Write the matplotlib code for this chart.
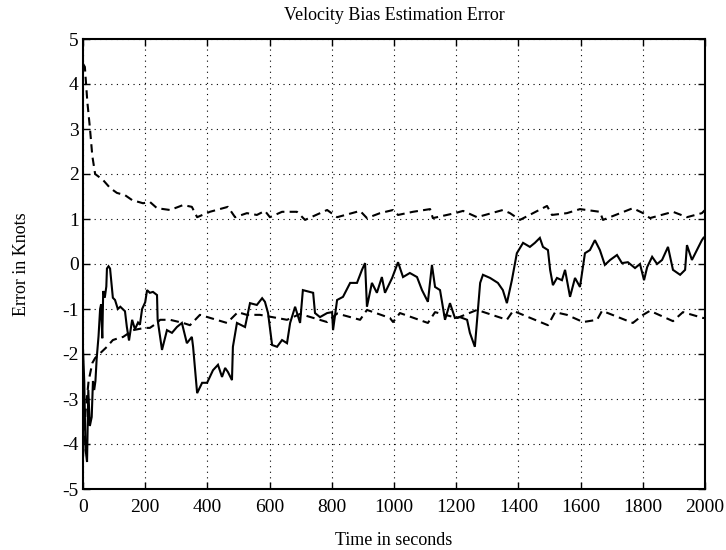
import matplotlib
matplotlib.use("Agg")
import matplotlib.pyplot as plt
import numpy as np

# ---- data ----
err_t = [0, 4, 8, 13, 17, 22, 28, 32, 36, 40, 44, 50, 55, 58, 62, 65, 70, 75, 77, 82, 87, 96,
         103, 112, 120, 135, 141, 148, 158, 167, 177, 183, 190, 200, 206, 215, 225, 238, 240,
         254, 270, 286, 302, 318, 334, 350, 354, 367, 383, 399, 418, 434, 447, 457, 466, 479,
         482, 495, 521, 537, 559, 576, 585, 595, 608, 624, 640, 656, 666, 682, 698, 707, 740,
         746, 762, 785, 801, 804, 817, 836, 859, 881, 897, 907, 913, 929, 945, 961, 971, 994,
         1013, 1029, 1051, 1074, 1090, 1109, 1122, 1132, 1148, 1164, 1180, 1196, 1212, 1235,
         1244, 1260, 1277, 1286, 1309, 1334, 1350, 1363, 1379, 1395, 1415, 1437, 1453, 1469,
         1479, 1495, 1502, 1511, 1524, 1540, 1550, 1566, 1582, 1598, 1614, 1630, 1646, 1662,
         1678, 1695, 1717, 1733, 1752, 1775, 1791, 1804, 1814, 1830, 1846, 1862, 1881, 1897,
         1920, 1936, 1942, 1958, 1974, 1990, 1997, 2000]
err_v = [-1.9, -2.6, -4.1, -4.4, -2.8, -3.6, -3.4, -2.6, -2.8, -2.6, -2.1, -1.6, -1.0, -0.9,
         -1.65, -0.6, -0.75, -0.5, -0.1, -0.05, -0.1, -0.75, -0.8, -1.0, -0.95, -1.05, -1.4,
         -1.7, -1.24, -1.45, -1.3, -1.35, -1.0, -0.85, -0.58, -0.64, -0.62, -0.69, -1.24,
         -1.91, -1.47, -1.53, -1.4, -1.31, -1.76, -1.62, -1.84, -2.87, -2.64, -2.64, -2.36,
         -2.24, -2.51, -2.31, -2.4, -2.58, -1.84, -1.31, -1.4, -0.87, -0.91, -0.76, -0.84,
         -1.09, -1.8, -1.84, -1.69, -1.76, -1.31, -0.95, -1.31, -0.58, -0.64, -1.09, -1.18,
         -1.09, -1.07, -1.47, -0.8, -0.73, -0.42, -0.42, -0.13, 0.02, -0.95, -0.42, -0.64,
         -0.29, -0.64, -0.31, 0.04, -0.29, -0.2, -0.29, -0.58, -0.84, -0.02, -0.51, -0.58,
         -1.24, -0.87, -1.2, -1.18, -1.24, -1.53, -1.84, -0.42, -0.24, -0.31, -0.42, -0.58,
         -0.87, -0.36, 0.24, 0.47, 0.38, 0.47, 0.58, 0.38, 0.31, -0.13, -0.47, -0.31, -0.36,
         -0.13, -0.73, -0.31, -0.51, 0.24, 0.31, 0.53, 0.31, -0.02, 0.09, 0.2, 0.02, 0.04,
         -0.09, 0.0, -0.36, -0.07, 0.16, 0.0, 0.09, 0.38, -0.13, -0.24, -0.13, 0.42, 0.09,
         0.31, 0.53, 0.6, 0.55]

up_t = [0, 6, 14, 22, 30, 39, 64, 87, 109, 135, 158, 193, 215, 238, 280, 322, 350, 367, 408,
        466, 489, 527, 559, 585, 601, 640, 688, 714, 785, 817, 891, 913, 955, 997, 1013, 1061,
        1116, 1125, 1196, 1222, 1267, 1350, 1373, 1405, 1492, 1508, 1556, 1598, 1662, 1672,
        1768, 1801, 1823, 1897, 1942, 1990, 2000]
up_v = [4.45, 4.38, 3.6, 3.04, 2.4, 2.0, 1.87, 1.69, 1.58, 1.53, 1.42, 1.35, 1.38, 1.24, 1.2,
        1.31, 1.27, 1.04, 1.16, 1.27, 1.04, 1.13, 1.09, 1.18, 1.04, 1.16, 1.16, 0.98, 1.2, 1.04,
        1.18, 1.02, 1.13, 1.2, 1.09, 1.16, 1.22, 1.02, 1.13, 1.18, 1.04, 1.2, 1.13, 0.98, 1.29,
        1.09, 1.13, 1.22, 1.16, 0.98, 1.24, 1.13, 1.02, 1.16, 1.04, 1.13, 1.2]

lo_t = [0, 8, 18, 30, 39, 77, 96, 113, 129, 161, 183, 199, 215, 238, 248, 280, 322, 344, 376,
        463, 498, 527, 569, 656, 698, 785, 817, 891, 913, 987, 997, 1019, 1109, 1132, 1203,
        1267, 1363, 1383, 1495, 1518, 1556, 1608, 1653, 1669, 1768, 1801, 1823, 1897, 1929,
        1994, 2000]
lo_v = [-4.3, -3.3, -2.6, -2.2, -2.09, -1.84, -1.69, -1.65, -1.62, -1.47, -1.44, -1.42, -1.42,
        -1.31, -1.24, -1.24, -1.31, -1.36, -1.13, -1.31, -1.07, -1.13, -1.13, -1.24, -1.11,
        -1.29, -1.1, -1.24, -1.02, -1.2, -1.29, -1.09, -1.31, -1.07, -1.2, -1.02, -1.24, -1.04,
        -1.36, -1.07, -1.13, -1.29, -1.24, -1.04, -1.31, -1.13, -1.04, -1.27, -1.07, -1.2, -1.2]

x_ticks = [0, 200, 400, 600, 800, 1000, 1200, 1400, 1600, 1800, 2000]
y_ticks = [-5, -4, -3, -2, -1, 0, 1, 2, 3, 4, 5]

plt.rcParams['font.family'] = ['Liberation Serif', 'DejaVu Serif']

fig = plt.figure(figsize=(7.26, 5.5), dpi=100)
ax = fig.add_axes([83/726, 1 - 489/550, (705 - 83)/726, (489 - 39)/550])

ax.plot(err_t, err_v, color='black', lw=1.5, solid_joinstyle='miter')
ax.plot(up_t, up_v, color='black', lw=1.5, linestyle=(0, (4, 2.5)))
ax.plot(lo_t, lo_v, color='black', lw=1.5, linestyle=(0, (4, 2.5)))

ax.set_xlim(0, 2000)
ax.set_ylim(-5, 5)
ax.set_xticks(x_ticks)
ax.set_yticks(y_ticks)
ax.set_xticklabels([str(v) for v in x_ticks], fontsize=14)
ax.set_yticklabels([str(v) for v in y_ticks], fontsize=14)
ax.tick_params(direction='in', length=5, width=1, top=True, right=True)
ax.tick_params(axis='x', pad=7)
ax.tick_params(axis='y', pad=3)
ax.grid(True, color='black', linestyle=(0, (1, 4)), linewidth=0.8)
for s in ax.spines.values():
    s.set_linewidth(1.5)

ax.set_title('Velocity Bias Estimation Error', fontsize=13, pad=14)
ax.set_xlabel('Time in seconds', fontsize=13, labelpad=12)
ax.set_ylabel('Error in Knots', fontsize=13, labelpad=23)

fig.savefig('out.png', dpi=100)
